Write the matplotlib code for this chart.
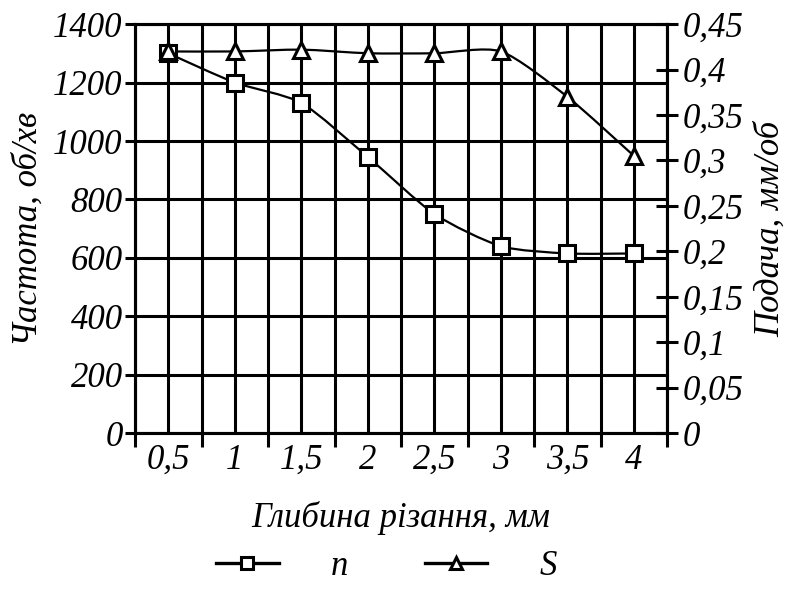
import numpy as np
import matplotlib
matplotlib.use("Agg")
import matplotlib.pyplot as plt
from matplotlib.path import Path
from matplotlib.patches import PathPatch
from matplotlib.lines import Line2D
from matplotlib.ticker import FixedLocator

# data
depth = ['0,5', '1', '1,5', '2', '2,5', '3', '3,5', '4']
n_vals = [1300, 1200, 1130, 945, 750, 640, 615, 615]          # об/хв
s_vals = [0.42, 0.42, 0.422, 0.418, 0.418, 0.42, 0.37, 0.305]  # мм/об
n_ticks = [0, 200, 400, 600, 800, 1000, 1200, 1400]
s_ticks = [0, 0.05, 0.1, 0.15, 0.2, 0.25, 0.3, 0.35, 0.4, 0.45]
s_tick_labels = ['0', '0,05', '0,1', '0,15', '0,2', '0,25', '0,3', '0,35', '0,4', '0,45']

plt.rcParams['font.family'] = ['Liberation Serif', 'DejaVu Serif']
plt.rcParams['font.style'] = 'italic'

LW = 2.2
FS = 25


def smooth_path(x, y, k=0.12):
    # Catmull-Rom style bezier segments (like a "smoothed line")
    pts = np.column_stack([np.asarray(x, float), np.asarray(y, float)])
    ext = np.vstack([pts[0], pts, pts[-1]])
    verts = [pts[0]]
    codes = [Path.MOVETO]
    for i in range(len(pts) - 1):
        p0, p1, p2, p3 = ext[i], ext[i + 1], ext[i + 2], ext[i + 3]
        verts += [p1 + (p2 - p0) * k, p2 - (p3 - p1) * k, p2]
        codes += [Path.CURVE4] * 3
    return Path(verts, codes)


fig = plt.figure(figsize=(8, 5.9), dpi=100)
ax = fig.add_axes([0.169, 0.266, 0.665, 0.693])
ax2 = ax.twinx()

xs = np.arange(len(depth))

ax.set_xlim(-0.5, len(depth) - 0.5)
ax.set_ylim(0, 1400)
ax2.set_ylim(0, 0.45)

# grid: horizontal every 200, vertical at centres and boundaries
ax.set_yticks(n_ticks, labels=[str(t) for t in n_ticks], fontstyle='italic')
ax.yaxis.grid(True, color='black', lw=LW)
for v in np.arange(-0.5, len(depth), 0.5):
    ax.axvline(v, color='black', lw=LW, zorder=0.5)

ax.set_xticks(xs, labels=depth, fontstyle='italic')
ax.xaxis.set_minor_locator(FixedLocator(np.arange(-0.5, len(depth), 1.0)))
ax.tick_params(axis='x', which='major', length=0, labelsize=FS, pad=8)
ax.tick_params(axis='x', which='minor', length=10, width=LW, direction='out')
ax.tick_params(axis='y', length=7, width=LW, direction='out', labelsize=FS, pad=2)

ax2.set_yticks(s_ticks, labels=s_tick_labels, fontstyle='italic')
ax2.tick_params(axis='y', length=16, width=LW, direction='inout', labelsize=FS, pad=3)

for a in (ax, ax2):
    for sp in a.spines.values():
        sp.set_linewidth(LW)

ax.set_xlabel('Глибина різання, мм', fontsize=FS, labelpad=17)
ax.set_ylabel('Частота, об/хв', fontsize=FS, labelpad=6)
ax2.set_ylabel('Подача, мм/об', fontsize=FS, labelpad=8)

# n curve on left axis
ax2.add_patch(PathPatch(smooth_path(xs, n_vals), fill=False, lw=1.6,
                        color='black', transform=ax.transData, zorder=3))
ax2.plot(xs, n_vals, ls='none', marker='s', ms=12, mfc='white', mec='black',
         mew=2.2, transform=ax.transData, zorder=4, clip_on=False)

# S curve on right axis
ax2.add_patch(PathPatch(smooth_path(xs, s_vals), fill=False, lw=1.6,
                        color='black', zorder=3))
ax2.plot(xs, s_vals, ls='none', marker='^', ms=12, mfc='white', mec='black',
         mew=2.2, zorder=4, clip_on=False)

h1 = Line2D([], [], color='black', lw=2.4, marker='s', ms=8, mfc='white', mec='black', mew=2.2)
h2 = Line2D([], [], color='black', lw=2.4, marker='^', ms=8, mfc='white', mec='black', mew=2.2)
fig.legend([h1, h2], ['n', 'S'], loc='center', bbox_to_anchor=(0.483, 0.04),
           ncol=2, frameon=False, fontsize=FS, handlelength=1.8,
           handletextpad=1.5, columnspacing=2.2)

fig.savefig('out.png', dpi=100)
